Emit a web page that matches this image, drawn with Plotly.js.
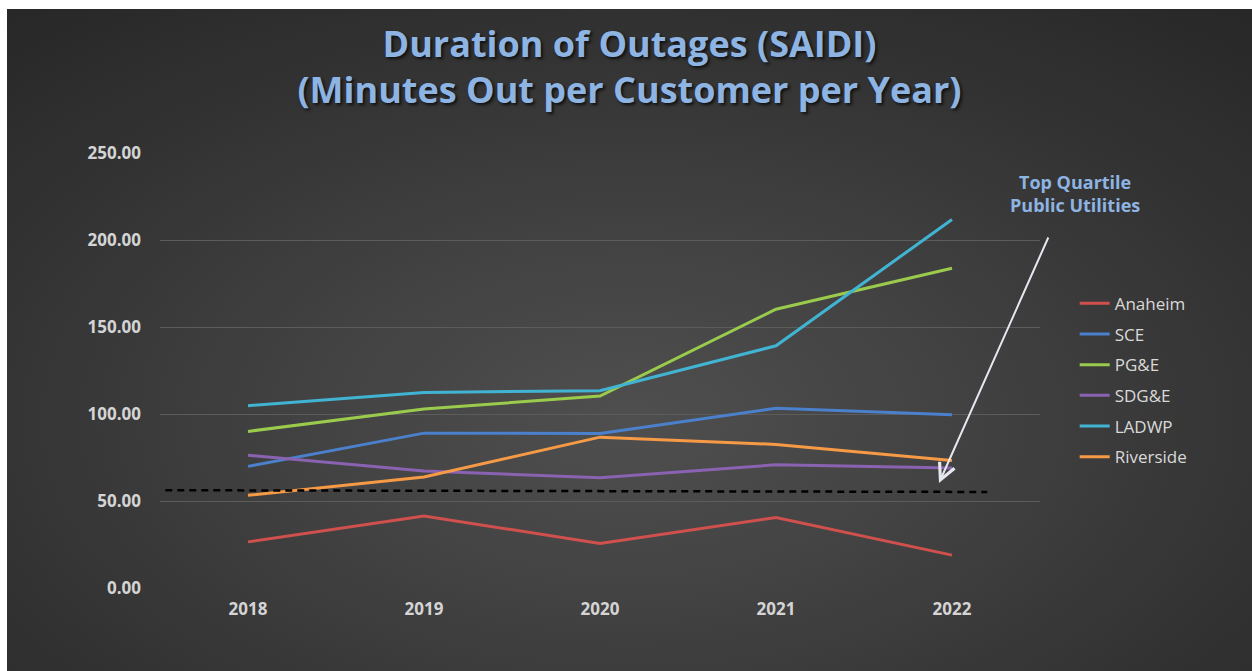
<!DOCTYPE html>
<html>
<head>
<meta charset="utf-8">
<script src="https://cdn.plot.ly/plotly-3.0.1.min.js"></script>
<style>
  html, body { margin: 0; padding: 0; background: #ffffff; width: 1252px; height: 671px; overflow: hidden; }
  #chart {
    position: absolute; left: 7px; top: 9px; width: 1245px; height: 662px;
    background: radial-gradient(ellipse 75% 80% at 50% 62%, #4f4f4f 0%, #424242 35%, #333333 70%, #282828 100%);
  }
</style>
</head>
<body>
<div id="chart"></div>
<script>
// ---- data ----
const years = ['2018', '2019', '2020', '2021', '2022'];
const seriesNames = ['Anaheim', 'SCE', 'PG&E', 'SDG&E', 'LADWP', 'Riverside'];
const anaheim   = [26.5, 41.4, 25.6, 40.5, 18.9];
const sce       = [69.9, 89.0, 88.8, 103.3, 99.5];
const pge       = [90.0, 102.9, 110.3, 160.2, 183.8];
const sdge      = [76.3, 67.2, 63.4, 70.8, 68.9];
const ladwp     = [104.8, 112.4, 113.4, 139.2, 211.8];
const riverside = [53.3, 63.8, 86.7, 82.5, 73.3];
const seriesValues = [anaheim, sce, pge, sdge, ladwp, riverside];
const seriesColors = ['#d0504e', '#4a80cc', '#9acb4c', '#8a62b2', '#42b4d3', '#f79a46'];
// benchmark: top quartile public utilities (dashed line), start/end in category index units
const benchmarkX = [-0.47, 4.2];
const benchmarkY = [56.2, 55.2];
const annotationText = 'Top Quartile<br>Public Utilities';
const arrowTip = [3.926, 60.3];
const arrowTail = [4.551, 202.3];

const traces = seriesNames.map((name, i) => ({
  type: 'scatter',
  mode: 'lines',
  name: name,
  x: years,
  y: seriesValues[i],
  line: { color: seriesColors[i], width: 3 },
  legendgroup: 'g' + i,
  hoverinfo: 'x+y+name'
}));

const tickFontY = { family: 'Open Sans, sans-serif', size: 17, color: '#d4d4d4', weight: 'bold' };
const tickFontX = { family: 'Open Sans, sans-serif', size: 17, color: '#d4d4d4', weight: 'bold' };

const layout = {
  width: 1245,
  height: 662,
  paper_bgcolor: 'rgba(0,0,0,0)',
  plot_bgcolor: 'rgba(0,0,0,0)',
  margin: { l: 153, r: 212, t: 144, b: 83, pad: 0 },
  title: {
    text: 'Duration of Outages (SAIDI)<br>(Minutes Out per Customer per Year)',
    font: { family: 'Open Sans, sans-serif', size: 36, color: '#8db4e2', weight: 'bold', shadow: '2px 2px 3px #111111' },
    x: 0.5, xanchor: 'center',
    yref: 'container', y: 0.928, yanchor: 'middle'
  },
  xaxis: {
    type: 'category',
    range: [-0.5, 4.5],
    showgrid: false,
    zeroline: false,
    showline: false,
    ticks: '',
    tickfont: tickFontX,
    ticklabelstandoff: 9
  },
  yaxis: {
    range: [0, 250],
    dtick: 50,
    tick0: 0,
    tickformat: '.2f',
    showgrid: true,
    gridcolor: '#5c5c5c',
    gridwidth: 1,
    zeroline: false,
    showline: false,
    ticks: '',
    tickfont: tickFontY,
    ticklabelstandoff: 18
  },
  legend: {
    x: 1.0394, xanchor: 'left',
    y: 0.695, yanchor: 'top',
    bgcolor: 'rgba(0,0,0,0)',
    font: { family: 'Open Sans, sans-serif', size: 17, color: '#d9d9d9' },
    tracegroupgap: 5.6,
    itemwidth: 30
  },
  showlegend: true,
  shapes: [{
    type: 'line', xref: 'x', yref: 'y',
    x0: benchmarkX[0], y0: benchmarkY[0], x1: benchmarkX[1], y1: benchmarkY[1],
    line: { color: '#000000', width: 2.5, dash: '7px,5px' }
  }],
  annotations: [
    {
      xref: 'paper', yref: 'paper', x: 1.040, y: 0.907,
      xanchor: 'center', yanchor: 'middle',
      text: annotationText, showarrow: false, align: 'center',
      font: { family: 'Open Sans, sans-serif', size: 18, color: '#8db4e2', weight: 'bold' }
    },
    {
      xref: 'x', yref: 'y', axref: 'x', ayref: 'y',
      x: arrowTip[0], y: arrowTip[1], ax: arrowTail[0], ay: arrowTail[1],
      text: '', showarrow: true, arrowhead: 5, arrowsize: 1.6, arrowwidth: 2,
      arrowcolor: '#e6e8f0', standoff: 0, startstandoff: 0
    }
  ]
};

Plotly.newPlot('chart', traces, layout, { displayModeBar: false, responsive: false });
</script>
</body>
</html>
